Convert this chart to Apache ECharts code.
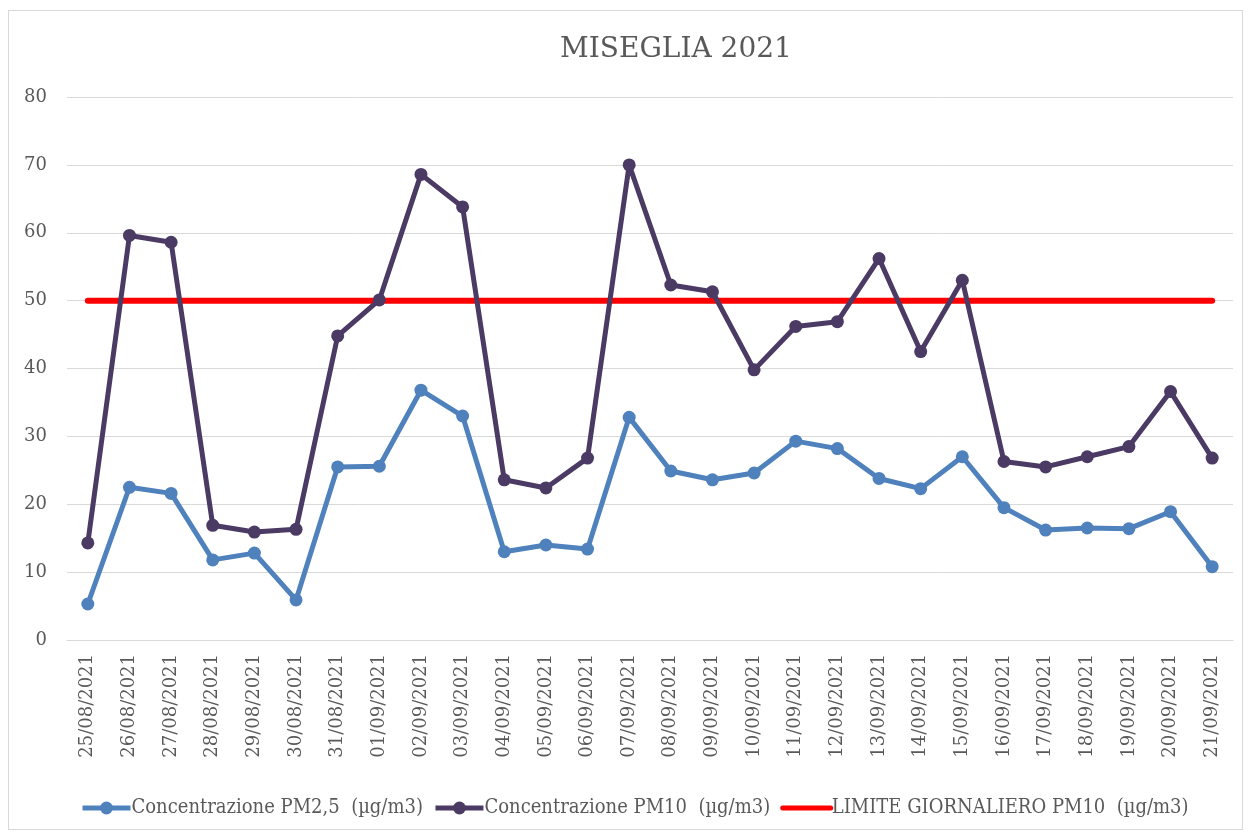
<!DOCTYPE html>
<html>
<head>
<meta charset="utf-8">
<title>MISEGLIA 2021</title>
<script src="https://cdn.jsdelivr.net/npm/echarts@6/dist/echarts.min.js"></script>
<style>
  html, body { margin: 0; padding: 0; background: #fff; }
  #frame { position: absolute; left: 8px; top: 10px; width: 1235px; height: 820px; border: 1px solid #d9d9d9; box-sizing: border-box; }
  #main { position: absolute; left: 0; top: 0; width: 1250px; height: 836px; }
</style>
</head>
<body>
<div id="frame"></div>
<div id="main"></div>
<script>
// days of the campaign
var days = ['25/08/2021','26/08/2021','27/08/2021','28/08/2021','29/08/2021','30/08/2021','31/08/2021',
  '01/09/2021','02/09/2021','03/09/2021','04/09/2021','05/09/2021','06/09/2021','07/09/2021',
  '08/09/2021','09/09/2021','10/09/2021','11/09/2021','12/09/2021','13/09/2021','14/09/2021',
  '15/09/2021','16/09/2021','17/09/2021','18/09/2021','19/09/2021','20/09/2021','21/09/2021'];

var pm25 = [5.3, 22.5, 21.6, 11.8, 12.8, 5.9, 25.5, 25.6, 36.8, 33.0, 13.0, 14.0, 13.4, 32.8,
  24.9, 23.6, 24.6, 29.3, 28.2, 23.8, 22.3, 27.0, 19.5, 16.2, 16.5, 16.4, 18.9, 10.8];

var pm10 = [14.3, 59.6, 58.6, 16.9, 15.9, 16.3, 44.8, 50.1, 68.6, 63.8, 23.6, 22.4, 26.8, 70.0,
  52.3, 51.3, 39.8, 46.2, 46.9, 56.2, 42.5, 53.0, 26.3, 25.5, 27.0, 28.5, 36.6, 26.8];

var limite = [50, 50, 50, 50, 50, 50, 50, 50, 50, 50, 50, 50, 50, 50,
  50, 50, 50, 50, 50, 50, 50, 50, 50, 50, 50, 50, 50, 50];

var yTicks = {min: 0, max: 80, interval: 10};

var txt = '#595959';
var font = '"DejaVu Serif", "Liberation Serif", serif';
var fontCond = '"DejaVu Serif Condensed", "DejaVu Serif", serif';

var myChart = echarts.init(document.getElementById('main'));
var option = {
	animation: false,
	textStyle: {fontFamily: font},
	title: {
		text: 'MISEGLIA 2021',
		left: 671,
		top: 31,
		textAlign: 'center',
		textStyle: {fontFamily: font, fontSize: 28, fontWeight: 'normal', color: txt}
	},
	grid: {left: 67, right: 17, top: 97, bottom: 196, containLabel: false},
	legend: {
		left: 75,
		top: 793,
		itemWidth: 48,
		itemHeight: 16,
		itemGap: 10,
		lineStyle: {width: 5},
		textStyle: {fontFamily: fontCond, fontSize: 20, color: txt, padding: [0, 0, 0, -4]},
		data: [
			'Concentrazione PM2,5  (µg/m3)',
			'Concentrazione PM10  (µg/m3)',
			{name: 'LIMITE GIORNALIERO PM10  (µg/m3)', itemStyle: {color: 'rgba(0,0,0,0)', opacity: 0}, lineStyle: {color: '#ff0000', width: 5}}
		]
	},
	xAxis: {
		type: 'category',
		data: days,
		boundaryGap: true,
		axisLine: {lineStyle: {color: '#d9d9d9', width: 1}},
		axisTick: {show: false},
		axisLabel: {rotate: 90, color: txt, fontSize: 18, fontFamily: font, margin: 14, interval: 0}
	},
	yAxis: {
		type: 'value',
		min: yTicks.min,
		max: yTicks.max,
		interval: yTicks.interval,
		axisLine: {show: false},
		axisTick: {show: false},
		splitLine: {lineStyle: {color: '#d9d9d9', width: 1}},
		axisLabel: {color: txt, fontSize: 18, fontFamily: font, margin: 20}
	},
	series: [
		{
			name: 'Concentrazione PM2,5  (µg/m3)',
			type: 'line',
			data: pm25,
			symbol: 'circle',
			symbolSize: 13,
			itemStyle: {color: '#4f81bd'},
			lineStyle: {color: '#4f81bd', width: 5}
		},
		{
			name: 'Concentrazione PM10  (µg/m3)',
			type: 'line',
			data: pm10,
			symbol: 'circle',
			symbolSize: 13,
			itemStyle: {color: '#4a3a64'},
			lineStyle: {color: '#4a3a64', width: 5}
		},
		{
			name: 'LIMITE GIORNALIERO PM10  (µg/m3)',
			type: 'line',
			data: limite,
			symbol: 'none',
			z: 1,
			itemStyle: {color: '#ff0000'},
			lineStyle: {color: '#ff0000', width: 6, cap: 'round'}
		}
	]
};
myChart.setOption(option);
</script>
</body>
</html>
